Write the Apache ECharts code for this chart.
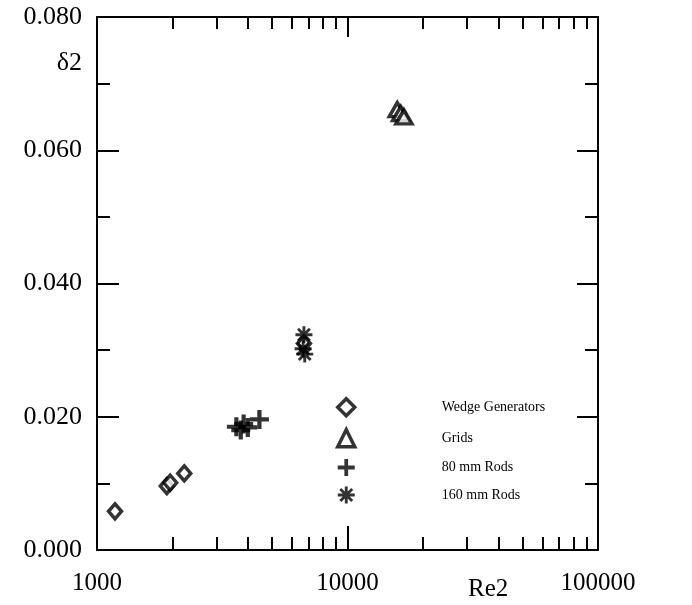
<!DOCTYPE html>
<html>
<head>
<meta charset="utf-8">
<script src="https://cdn.jsdelivr.net/npm/echarts@6/dist/echarts.min.js"></script>
<style>
  html, body { margin: 0; padding: 0; background: #fff; }
  #chart { width: 692px; height: 605px; }
</style>
</head>
<body>
<div id="chart"></div>
<script>
// Momentum thickness delta2 against Re2 for four wake generators
const wedgeGenerators = [[1180, 0.0058], [1900, 0.0096], [1960, 0.0101], [2230, 0.0115], [6700, 0.0310]];
const grids = [[15800, 0.0661], [16300, 0.0655], [16800, 0.0650]];
const rods80 = [[3600, 0.0185], [3750, 0.0180], [3850, 0.0189], [4000, 0.0184], [4450, 0.0196]];
const rods160 = [[6700, 0.0323], [6650, 0.0302], [6750, 0.0294]];

const seriesNames = ['Wedge Generators', 'Grids', '80 mm Rods', '160 mm Rods'];
const xMajorTickValues = [1000, 10000, 100000];
const xMinorTickValues = [2000, 3000, 4000, 5000, 6000, 7000, 8000, 9000,
  20000, 30000, 40000, 50000, 60000, 70000, 80000, 90000];
const yTickLabels = ['0.000', '0.020', '0.040', '0.060', '0.080'];

const FONT = '"Liberation Serif", "DejaVu Serif", serif';
const INK = '#000';

const plusPath = 'path://M7,0H11V7H18V11H11V18H7V11H0V7H7Z';
const starPath = 'path://M0,8.3H20V11.7H0Z M8.3,0H11.7V20H8.3Z ' +
  'M4.2,1.8L18.2,15.8L15.8,18.2L1.8,4.2Z M18.2,4.2L4.2,18.2L1.8,15.8L15.8,1.8Z';

const hollow = { color: '#fff', borderColor: INK, borderWidth: 3.5 };
const solid = { color: INK };

const chart = echarts.init(document.getElementById('chart'), null, { renderer: 'canvas' });

// Tick-only axes work in log10 space so the decade subdivisions land where the log axis puts them
const majorLog = xMajorTickValues.map(v => Math.log10(v));
const minorLog = xMinorTickValues.map(v => Math.log10(v));

function tickAxis(position, values, length, showLine) {
  return {
    type: 'value', min: 3, max: 5, position: position,
    axisLine: { show: showLine, onZero: false, lineStyle: { color: INK, width: 2 } },
    axisTick: { show: true, inside: true, length: length, interval: 0, customValues: values, lineStyle: { color: INK, width: 2 } },
    axisLabel: { show: false },
    splitLine: { show: false }
  };
}

chart.setOption({
  backgroundColor: '#fff',
  animation: false,
  grid: { left: 97, right: 94, top: 17, bottom: 55, containLabel: false },
  xAxis: [
    {
      type: 'log', logBase: 10, min: 1000, max: 100000, position: 'bottom',
      axisLine: { show: true, onZero: false, lineStyle: { color: INK, width: 2 } },
      axisTick: { show: true, inside: true, length: 24, interval: 0, lineStyle: { color: INK, width: 2 } },
      axisLabel: { color: INK, fontFamily: FONT, fontSize: 25, margin: 21, formatter: v => String(Math.round(v)) },
      splitLine: { show: false }
    },
    tickAxis('top', majorLog, 20, true),
    tickAxis('bottom', minorLog, 13, false),
    tickAxis('top', minorLog, 12, false)
  ],
  yAxis: [
    {
      type: 'value', min: 0, max: 0.08, interval: 0.02, position: 'left',
      axisLine: { show: true, onZero: false, lineStyle: { color: INK, width: 2 } },
      axisTick: { show: true, inside: true, length: 22, lineStyle: { color: INK, width: 2 } },
      minorTick: { show: true, splitNumber: 2, length: 13, lineStyle: { color: INK, width: 2 } },
      axisLabel: {
        color: INK, fontFamily: FONT, fontSize: 26, margin: 15,
        formatter: v => yTickLabels[Math.round(v / 0.02)]
      },
      splitLine: { show: false }
    },
    {
      type: 'value', min: 0, max: 0.08, interval: 0.02, position: 'right',
      axisLine: { show: true, onZero: false, lineStyle: { color: INK, width: 2 } },
      axisTick: { show: true, inside: true, length: 21, lineStyle: { color: INK, width: 2 } },
      minorTick: { show: true, splitNumber: 2, length: 13, lineStyle: { color: INK, width: 2 } },
      axisLabel: { show: false },
      splitLine: { show: false }
    }
  ],
  legend: {
    orient: 'vertical', left: 331, top: 392,
    itemWidth: 17, itemHeight: 17, itemGap: 10.5,
    textStyle: { color: INK, fontFamily: FONT, fontSize: 14, padding: [0, 0, 0, 82] },
    data: [
      { name: seriesNames[0], icon: 'diamond', itemStyle: hollow },
      { name: seriesNames[1], icon: 'triangle', itemStyle: hollow },
      { name: seriesNames[2], icon: plusPath, itemStyle: solid },
      { name: seriesNames[3], icon: starPath, itemStyle: solid }
    ]
  },
  graphic: [
    { type: 'text', right: 692 - 82, top: 50, style: { text: 'δ2', fill: INK, font: '26px ' + FONT } },
    { type: 'text', left: 468, top: 577, style: { text: 'Re2', fill: INK, font: '25px ' + FONT } }
  ],
  series: [
    { name: seriesNames[0], type: 'scatter', symbol: 'diamond', symbolSize: [13, 15], itemStyle: hollow, data: wedgeGenerators },
    { name: seriesNames[1], type: 'scatter', symbol: 'triangle', symbolSize: [16, 14], itemStyle: hollow, data: grids },
    { name: seriesNames[2], type: 'scatter', symbol: plusPath, symbolSize: 19, itemStyle: solid, data: rods80 },
    { name: seriesNames[3], type: 'scatter', symbol: starPath, symbolSize: 17, itemStyle: solid, data: rods160 }
  ]
});
</script>
</body>
</html>
